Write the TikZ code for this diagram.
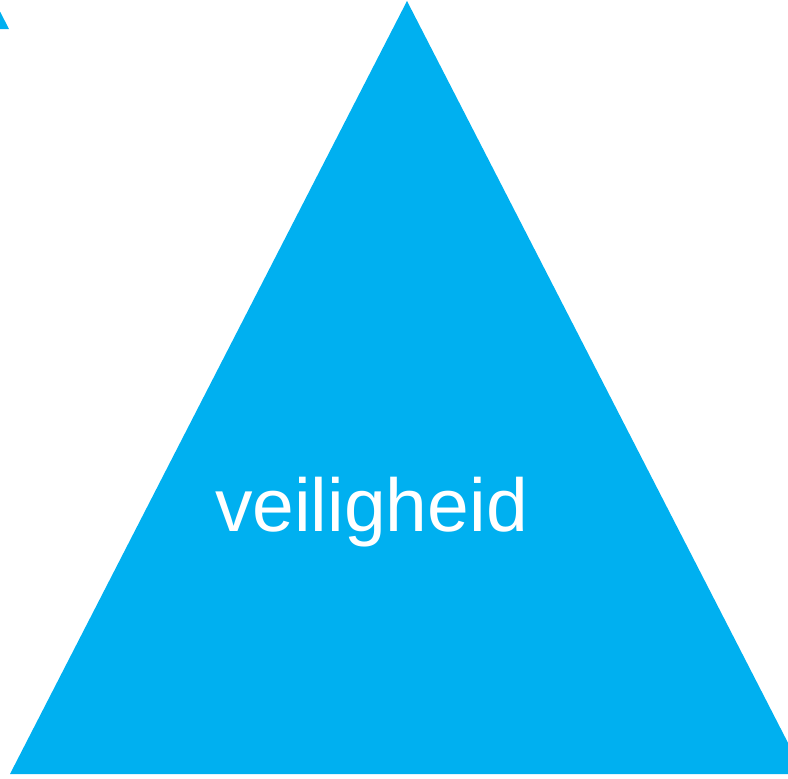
\documentclass[tikz,border=0pt]{standalone}
\usepackage{fontspec}
\setmainfont{Liberation Sans}
\usetikzlibrary{positioning}
\definecolor{safetyBlue}{RGB}{0,176,240}

\begin{document}
\begin{tikzpicture}[
x=1pt, y=-1pt,
tri/.style={fill=safetyBlue},
label/.style={text=white, font=\fontsize{75}{75}\selectfont, inner sep=0pt}
]
\useasboundingbox (0,0) rectangle (788,779);
% neighbouring triangle, only its corner shows
\fill[tri] (-400,29) -- (9,29) -- (-390,-746) -- cycle;
% main triangle
\fill[tri] (10,774) -- (407,1) -- (804,774) -- cycle;
\node[label, anchor=base] (safety) at (371.5,531) {veiligheid};
\end{tikzpicture}
\end{document}
